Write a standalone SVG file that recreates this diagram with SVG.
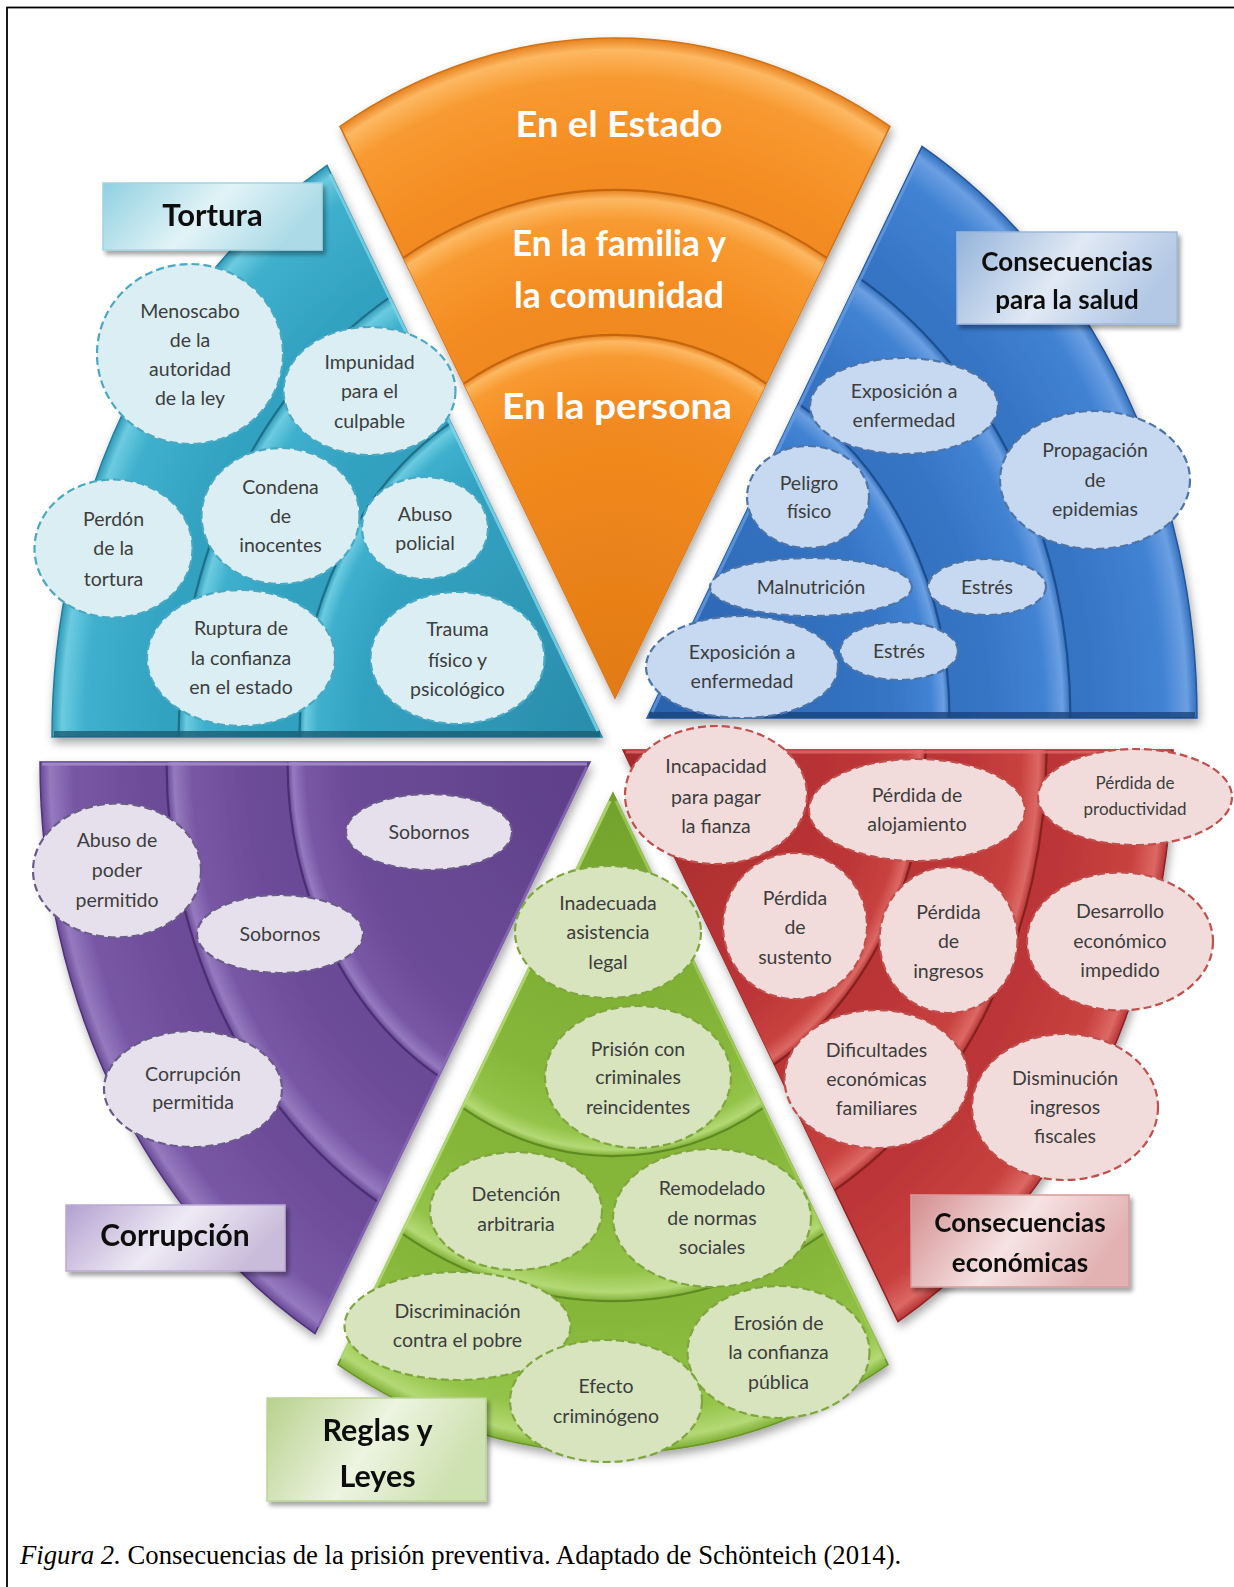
<svg xmlns="http://www.w3.org/2000/svg" xmlns:xlink="http://www.w3.org/1999/xlink" width="1234" height="1587" viewBox="0 0 1234 1587">
<style>
  .t { font-family: Lato, "Open Sans", sans-serif; font-size: 19.5px; fill: #3d3d3d; text-anchor: middle; }
  .ts { font-size: 17px; }
  .ow { font-family: Lato, "Open Sans", sans-serif; font-weight: 700; font-size: 37px; fill: #ffffff; text-anchor: middle; }
  .lb { font-family: Lato, "Open Sans", sans-serif; font-weight: 700; fill: #111111; text-anchor: middle; }
  .nd { stroke-width: 2.2; stroke-dasharray: 8 4; }
  .nT { fill: #daeef3; stroke: #4aa8c2; }
  .nB { fill: #c6d9f1; stroke: #4f74a6; }
  .nP { fill: #e5e0ec; stroke: #6b5b88; }
  .nG { fill: #d7e4bd; stroke: #7fa63e; }
  .nR { fill: #f2dcdb; stroke: #c0504d; }
  .groove { fill: none; stroke-width: 2.2; }
  .box { filter: url(#bs); }
</style>
<defs>
  <!-- wedge outlines, apex at origin, elliptical rim rx 550 / ry 660 -->
  <path id="wO" d="M0 0 L-275 -571.6 A550 660 0 0 1 275 -571.6 Z"/>
  <path id="wB" d="M0 0 L275 -571.6 A550 660 0 0 1 550 0 Z"/>
  <path id="wR" d="M0 0 L550 0 A550 660 0 0 1 275 571.6 Z"/>
  <path id="wG" d="M0 0 L275 571.6 A550 660 0 0 1 -275 571.6 Z"/>
  <path id="wP" d="M0 0 L-275 571.6 A550 660 0 0 1 -550 0 Z"/>
  <path id="wT" d="M0 0 L-550 0 A550 660 0 0 1 -275 -571.6 Z"/>

  <radialGradient id="gO" gradientUnits="userSpaceOnUse" cx="0" cy="0" r="660" gradientTransform="scale(0.8333 1)">
    <stop offset="0" stop-color="#e27a14"/>
    <stop offset="0.8" stop-color="#f38b21"/>
    <stop offset="0.94" stop-color="#f89a31"/>
    <stop offset="0.982" stop-color="#fdb862"/>
    <stop offset="1" stop-color="#e7821f"/>
  </radialGradient>
  <radialGradient id="gT" gradientUnits="userSpaceOnUse" cx="0" cy="0" r="660" gradientTransform="scale(0.8333 1)">
    <stop offset="0" stop-color="#2a8cab"/>
    <stop offset="0.8" stop-color="#33a2c1"/>
    <stop offset="0.94" stop-color="#3fb0cd"/>
    <stop offset="0.982" stop-color="#6ccbe0"/>
    <stop offset="1" stop-color="#2e98b7"/>
  </radialGradient>
  <radialGradient id="gB" gradientUnits="userSpaceOnUse" cx="0" cy="0" r="660" gradientTransform="scale(0.8333 1)">
    <stop offset="0" stop-color="#2a62ac"/>
    <stop offset="0.8" stop-color="#3574c4"/>
    <stop offset="0.94" stop-color="#4283d3"/>
    <stop offset="0.982" stop-color="#6b9fe2"/>
    <stop offset="1" stop-color="#3370bd"/>
  </radialGradient>
  <radialGradient id="gP" gradientUnits="userSpaceOnUse" cx="0" cy="0" r="660" gradientTransform="scale(0.8333 1)">
    <stop offset="0" stop-color="#5d3f88"/>
    <stop offset="0.8" stop-color="#6c4b98"/>
    <stop offset="0.94" stop-color="#7857a5"/>
    <stop offset="0.982" stop-color="#957abf"/>
    <stop offset="1" stop-color="#674795"/>
  </radialGradient>
  <radialGradient id="gG" gradientUnits="userSpaceOnUse" cx="0" cy="0" r="660" gradientTransform="scale(0.8333 1)">
    <stop offset="0" stop-color="#72a22c"/>
    <stop offset="0.8" stop-color="#86b73a"/>
    <stop offset="0.94" stop-color="#93c347"/>
    <stop offset="0.982" stop-color="#b3d975"/>
    <stop offset="1" stop-color="#7fb035"/>
  </radialGradient>
  <radialGradient id="gR" gradientUnits="userSpaceOnUse" cx="0" cy="0" r="660" gradientTransform="scale(0.8333 1)">
    <stop offset="0" stop-color="#a42a2c"/>
    <stop offset="0.8" stop-color="#bc3537"/>
    <stop offset="0.94" stop-color="#c84240"/>
    <stop offset="0.982" stop-color="#dc6864"/>
    <stop offset="1" stop-color="#b53335"/>
  </radialGradient>

  <linearGradient id="bT" x1="0" y1="0" x2="1" y2="0.3">
    <stop offset="0" stop-color="#8fd0e0"/><stop offset="0.55" stop-color="#e2f3f7"/><stop offset="1" stop-color="#acdbe7"/>
  </linearGradient>
  <linearGradient id="bB" x1="0" y1="0" x2="1" y2="0.3">
    <stop offset="0" stop-color="#93b3da"/><stop offset="0.55" stop-color="#e1e9f4"/><stop offset="1" stop-color="#b2c8e4"/>
  </linearGradient>
  <linearGradient id="bP" x1="0" y1="0" x2="1" y2="0.3">
    <stop offset="0" stop-color="#b3a0cf"/><stop offset="0.55" stop-color="#eeeaf4"/><stop offset="1" stop-color="#c9bcdb"/>
  </linearGradient>
  <linearGradient id="bG" x1="0" y1="0" x2="1" y2="0.3">
    <stop offset="0" stop-color="#b7d18c"/><stop offset="0.55" stop-color="#edf4e1"/><stop offset="1" stop-color="#cee1b0"/>
  </linearGradient>
  <linearGradient id="bR" x1="0" y1="0" x2="1" y2="0.3">
    <stop offset="0" stop-color="#d38c8e"/><stop offset="0.55" stop-color="#f6e3e3"/><stop offset="1" stop-color="#e2b2b3"/>
  </linearGradient>

  <filter id="ds" x="-10%" y="-10%" width="125%" height="125%">
    <feGaussianBlur in="SourceAlpha" stdDeviation="5"/>
    <feOffset dx="2" dy="5" result="b"/>
    <feFlood flood-color="#000" flood-opacity="0.35"/>
    <feComposite in2="b" operator="in"/>
    <feMerge><feMergeNode/><feMergeNode in="SourceGraphic"/></feMerge>
  </filter>
  <filter id="bs" x="-10%" y="-10%" width="125%" height="135%">
    <feGaussianBlur in="SourceAlpha" stdDeviation="2"/>
    <feOffset dx="3" dy="4" result="b"/>
    <feFlood flood-color="#000" flood-opacity="0.35"/>
    <feComposite in2="b" operator="in"/>
    <feMerge><feMergeNode/><feMergeNode in="SourceGraphic"/></feMerge>
  </filter>
</defs>

<rect x="0" y="0" width="1234" height="1587" fill="#ffffff"/>
<!-- page frame; its right and lower edges run past the sheet -->
<rect x="7" y="7.5" width="1240" height="1590" fill="none" stroke="#000" stroke-width="1.8"/>

<!-- ===== wedges ===== -->
<g id="wedges">
  <g id="wedge-orange" transform="translate(615 698)" filter="url(#ds)">
    <use href="#wO" fill="url(#gO)" stroke="#d0731a" stroke-width="1.5"/>
    <use href="#wO" transform="scale(0.77)" fill="url(#gO)"/>
    <use href="#wO" transform="scale(0.55)" fill="url(#gO)"/>
    <path class="groove" stroke="#c46610" d="M-211.75 -440.1 A423.5 508.2 0 0 1 211.75 -440.1"/>
    <path class="groove" stroke="#c46610" d="M-151.25 -314.4 A302.5 363 0 0 1 151.25 -314.4"/>
  </g>
  <g id="wedge-teal" transform="translate(602 737)" filter="url(#ds)">
    <use href="#wT" fill="url(#gT)" stroke="#247f9a" stroke-width="1.5"/>
    <use href="#wT" transform="scale(0.77)" fill="url(#gT)"/>
    <use href="#wT" transform="scale(0.55)" fill="url(#gT)"/>
    <path class="groove" stroke="#1f6f88" d="M-423.5 0 A423.5 508.2 0 0 1 -211.75 -440.1"/>
    <path class="groove" stroke="#1f6f88" d="M-302.5 0 A302.5 363 0 0 1 -151.25 -314.4"/>
    <path d="M-548 -3 L-2 -3" stroke="#1a5f75" stroke-width="6" opacity="0.8"/>
    <path d="M-4 -6 L-272 -563" stroke="#7fd6ea" stroke-width="3" opacity="0.8"/>
  </g>
  <g id="wedge-blue" transform="translate(647 718)" filter="url(#ds)">
    <use href="#wB" fill="url(#gB)" stroke="#24559a" stroke-width="1.5"/>
    <use href="#wB" transform="scale(0.77)" fill="url(#gB)"/>
    <use href="#wB" transform="scale(0.55)" fill="url(#gB)"/>
    <path class="groove" stroke="#1f4f8e" d="M211.75 -440.1 A423.5 508.2 0 0 1 423.5 0"/>
    <path class="groove" stroke="#1f4f8e" d="M151.25 -314.4 A302.5 363 0 0 1 302.5 0"/>
    <path d="M2 -3 L548 -3" stroke="#1b4680" stroke-width="6" opacity="0.8"/>
    <path d="M5 -6 L273 -563" stroke="#6d9fe0" stroke-width="3" opacity="0.7"/>
  </g>
  <g id="wedge-purple" transform="translate(590 762)" filter="url(#ds)">
    <use href="#wP" fill="url(#gP)" stroke="#4e3478" stroke-width="1.5"/>
    <use href="#wP" transform="scale(0.77)" fill="url(#gP)"/>
    <use href="#wP" transform="scale(0.55)" fill="url(#gP)"/>
    <path class="groove" stroke="#4a2f72" d="M-211.75 440.1 A423.5 508.2 0 0 1 -423.5 0"/>
    <path class="groove" stroke="#4a2f72" d="M-151.25 314.4 A302.5 363 0 0 1 -302.5 0"/>
    <path d="M-548 2 L-3 2" stroke="#a58bcb" stroke-width="3" opacity="0.9"/>
    <path d="M-3 5 L-272 565" stroke="#8a6cb8" stroke-width="3" opacity="0.8"/>
  </g>
  <g id="wedge-green" transform="translate(613 793)" filter="url(#ds)">
    <use href="#wG" fill="url(#gG)" stroke="#6a9528" stroke-width="1.5"/>
    <use href="#wG" transform="scale(0.77)" fill="url(#gG)"/>
    <use href="#wG" transform="scale(0.55)" fill="url(#gG)"/>
    <path class="groove" stroke="#5f8a22" d="M211.75 440.1 A423.5 508.2 0 0 1 -211.75 440.1"/>
    <path class="groove" stroke="#5f8a22" d="M151.25 314.4 A302.5 363 0 0 1 -151.25 314.4"/>
    <path d="M-3 8 L-272 566" stroke="#b9dd7c" stroke-width="3" opacity="0.8"/>
    <path d="M3 8 L272 566" stroke="#a9d066" stroke-width="3" opacity="0.7"/>
  </g>
  <g id="wedge-red" transform="translate(623 750)" filter="url(#ds)">
    <use href="#wR" fill="url(#gR)" stroke="#8e2224" stroke-width="1.5"/>
    <use href="#wR" transform="scale(0.77)" fill="url(#gR)"/>
    <use href="#wR" transform="scale(0.55)" fill="url(#gR)"/>
    <path class="groove" stroke="#86201f" d="M423.5 0 A423.5 508.2 0 0 1 211.75 440.1"/>
    <path class="groove" stroke="#86201f" d="M302.5 0 A302.5 363 0 0 1 151.25 314.4"/>
    <path d="M3 2 L548 2" stroke="#df6a68" stroke-width="3" opacity="0.8"/>
  </g>
</g>

<!-- centre wedge captions -->
<g id="levels">
  <text class="ow" x="619" y="137" textLength="207" lengthAdjust="spacingAndGlyphs">En el Estado</text>
  <text class="ow" x="619" y="256" textLength="214" lengthAdjust="spacingAndGlyphs">En la familia y</text>
  <text class="ow" x="619" y="308" textLength="210" lengthAdjust="spacingAndGlyphs">la comunidad</text>
  <text class="ow" x="617" y="419" textLength="230" lengthAdjust="spacingAndGlyphs">En la persona</text>
</g>

<!-- ===== Tortura ===== -->
<g id="n-menoscabo"><ellipse class="nd nT" cx="190" cy="354" rx="93" ry="90"/>
  <text class="t"><tspan x="190" y="317.5">Menoscabo</tspan><tspan x="190" y="346.5">de la</tspan><tspan x="190" y="376">autoridad</tspan><tspan x="190" y="404.5">de la ley</tspan></text></g>
<g id="n-impunidad"><ellipse class="nd nT" cx="369.5" cy="391" rx="86" ry="64"/>
  <text class="t"><tspan x="369.5" y="369">Impunidad</tspan><tspan x="369.5" y="398">para el</tspan><tspan x="369.5" y="427.5">culpable</tspan></text></g>
<g id="n-condena"><ellipse class="nd nT" cx="280.5" cy="516" rx="79" ry="68"/>
  <text class="t"><tspan x="280.5" y="493.5">Condena</tspan><tspan x="280.5" y="522.5">de</tspan><tspan x="280.5" y="552">inocentes</tspan></text></g>
<g id="n-abuso-policial"><ellipse class="nd nT" cx="425" cy="528" rx="63" ry="51"/>
  <text class="t"><tspan x="425" y="520.5">Abuso</tspan><tspan x="425" y="550">policial</tspan></text></g>
<g id="n-perdon"><ellipse class="nd nT" cx="113.5" cy="548.5" rx="79" ry="69"/>
  <text class="t"><tspan x="113.5" y="525.5">Perdón</tspan><tspan x="113.5" y="555">de la</tspan><tspan x="113.5" y="585.5">tortura</tspan></text></g>
<g id="n-ruptura"><ellipse class="nd nT" cx="241" cy="658" rx="94" ry="68"/>
  <text class="t"><tspan x="241" y="635">Ruptura de</tspan><tspan x="241" y="664.5">la confianza</tspan><tspan x="241" y="693.5">en el estado</tspan></text></g>
<g id="n-trauma"><ellipse class="nd nT" cx="457.5" cy="658" rx="87" ry="66"/>
  <text class="t"><tspan x="457.5" y="636">Trauma</tspan><tspan x="457.5" y="666.5">físico y</tspan><tspan x="457.5" y="695.5">psicológico</tspan></text></g>

<!-- ===== Salud ===== -->
<g id="n-exposicion-1"><ellipse class="nd nB" cx="904" cy="406" rx="94" ry="48"/>
  <text class="t"><tspan x="904" y="398">Exposición a</tspan><tspan x="904" y="426.5">enfermedad</tspan></text></g>
<g id="n-propagacion"><ellipse class="nd nB" cx="1095" cy="480" rx="95" ry="69"/>
  <text class="t"><tspan x="1095" y="457">Propagación</tspan><tspan x="1095" y="486.5">de</tspan><tspan x="1095" y="515.5">epidemias</tspan></text></g>
<g id="n-peligro"><ellipse class="nd nB" cx="808" cy="497" rx="61" ry="51"/>
  <text class="t"><tspan x="809" y="489.5">Peligro</tspan><tspan x="809" y="517.5">físico</tspan></text></g>
<g id="n-malnutricion"><ellipse class="nd nB" cx="811" cy="587" rx="101" ry="29"/>
  <text class="t" x="811" y="593.5">Malnutrición</text></g>
<g id="n-estres-1"><ellipse class="nd nB" cx="987" cy="587" rx="59" ry="28"/>
  <text class="t" x="987" y="593.5">Estrés</text></g>
<g id="n-exposicion-2"><ellipse class="nd nB" cx="742" cy="667" rx="96" ry="51"/>
  <text class="t"><tspan x="742" y="658.5">Exposición a</tspan><tspan x="742" y="687.5">enfermedad</tspan></text></g>
<g id="n-estres-2"><ellipse class="nd nB" cx="899" cy="651" rx="59" ry="29"/>
  <text class="t" x="899" y="657.5">Estrés</text></g>

<!-- ===== Corrupción ===== -->
<g id="n-abuso-poder"><ellipse class="nd nP" cx="117" cy="870.5" rx="84" ry="67"/>
  <text class="t"><tspan x="117" y="846.5">Abuso de</tspan><tspan x="117" y="877">poder</tspan><tspan x="117" y="906.5">permitido</tspan></text></g>
<g id="n-sobornos-1"><ellipse class="nd nP" cx="429" cy="832" rx="83" ry="38"/>
  <text class="t" x="429" y="838.5">Sobornos</text></g>
<g id="n-sobornos-2"><ellipse class="nd nP" cx="280" cy="934" rx="83" ry="39"/>
  <text class="t" x="280" y="940.5">Sobornos</text></g>
<g id="n-corrupcion-permitida"><ellipse class="nd nP" cx="193" cy="1089" rx="89" ry="58"/>
  <text class="t"><tspan x="193" y="1080.5">Corrupción</tspan><tspan x="193" y="1108.5">permitida</tspan></text></g>

<!-- ===== Reglas y Leyes ===== -->
<g id="n-inadecuada"><ellipse class="nd nG" cx="608" cy="932" rx="93" ry="66"/>
  <text class="t"><tspan x="608" y="909.5">Inadecuada</tspan><tspan x="608" y="938.5">asistencia</tspan><tspan x="608" y="968.5">legal</tspan></text></g>
<g id="n-prision"><ellipse class="nd nG" cx="638" cy="1077" rx="93" ry="71"/>
  <text class="t"><tspan x="638" y="1055.5">Prisión con</tspan><tspan x="638" y="1083.5">criminales</tspan><tspan x="638" y="1113.5">reincidentes</tspan></text></g>
<g id="n-detencion"><ellipse class="nd nG" cx="516" cy="1211" rx="86" ry="59"/>
  <text class="t"><tspan x="516" y="1201">Detención</tspan><tspan x="516" y="1230.5">arbitraria</tspan></text></g>
<g id="n-remodelado"><ellipse class="nd nG" cx="712" cy="1218" rx="99" ry="69"/>
  <text class="t"><tspan x="712" y="1195">Remodelado</tspan><tspan x="712" y="1224.5">de normas</tspan><tspan x="712" y="1253.5">sociales</tspan></text></g>
<g id="n-discriminacion"><ellipse class="nd nG" cx="457.5" cy="1326" rx="113" ry="54"/>
  <text class="t"><tspan x="457.5" y="1317.5">Discriminación</tspan><tspan x="457.5" y="1346.5">contra el pobre</tspan></text></g>
<g id="n-erosion"><ellipse class="nd nG" cx="778.5" cy="1352" rx="91" ry="66"/>
  <text class="t"><tspan x="778.5" y="1329.5">Erosión de</tspan><tspan x="778.5" y="1358.5">la confianza</tspan><tspan x="778.5" y="1388.5">pública</tspan></text></g>
<g id="n-efecto"><ellipse class="nd nG" cx="606" cy="1401" rx="96" ry="61"/>
  <text class="t"><tspan x="606" y="1392.5">Efecto</tspan><tspan x="606" y="1422.5">criminógeno</tspan></text></g>

<!-- ===== Consecuencias económicas ===== -->
<g id="n-incapacidad"><ellipse class="nd nR" cx="716" cy="795" rx="91" ry="69"/>
  <text class="t"><tspan x="716" y="772.5">Incapacidad</tspan><tspan x="716" y="803.5">para pagar</tspan><tspan x="716" y="832.5">la fianza</tspan></text></g>
<g id="n-alojamiento"><ellipse class="nd nR" cx="917" cy="810" rx="108" ry="51"/>
  <text class="t"><tspan x="917" y="801.5">Pérdida de</tspan><tspan x="917" y="830.5">alojamiento</tspan></text></g>
<g id="n-productividad"><ellipse class="nd nR" cx="1135" cy="797" rx="97" ry="48"/>
  <text class="t ts"><tspan x="1135" y="789">Pérdida de</tspan><tspan x="1135" y="814.5">productividad</tspan></text></g>
<g id="n-sustento"><ellipse class="nd nR" cx="795" cy="926" rx="72" ry="73"/>
  <text class="t"><tspan x="795" y="904.5">Pérdida</tspan><tspan x="795" y="933.5">de</tspan><tspan x="795" y="963.5">sustento</tspan></text></g>
<g id="n-ingresos"><ellipse class="nd nR" cx="948.5" cy="940" rx="69" ry="73"/>
  <text class="t"><tspan x="948.5" y="918.5">Pérdida</tspan><tspan x="948.5" y="947.5">de</tspan><tspan x="948.5" y="977.5">ingresos</tspan></text></g>
<g id="n-desarrollo"><ellipse class="nd nR" cx="1120" cy="941.5" rx="93" ry="69"/>
  <text class="t"><tspan x="1120" y="917.5">Desarrollo</tspan><tspan x="1120" y="948">económico</tspan><tspan x="1120" y="976.5">impedido</tspan></text></g>
<g id="n-dificultades"><ellipse class="nd nR" cx="876.5" cy="1079" rx="92" ry="69"/>
  <text class="t"><tspan x="876.5" y="1056.5">Dificultades</tspan><tspan x="876.5" y="1085.5">económicas</tspan><tspan x="876.5" y="1115">familiares</tspan></text></g>
<g id="n-disminucion"><ellipse class="nd nR" cx="1065" cy="1107" rx="93" ry="73"/>
  <text class="t"><tspan x="1065" y="1084.5">Disminución</tspan><tspan x="1065" y="1113.5">ingresos</tspan><tspan x="1065" y="1142.5">fiscales</tspan></text></g>

<!-- ===== category labels ===== -->
<g id="label-tortura" class="box">
  <rect x="103" y="183" width="219" height="67" fill="url(#bT)" stroke="#a3d4e1" stroke-width="1.5"/>
  <text class="lb" x="212.5" y="226" font-size="31">Tortura</text>
</g>
<g id="label-salud" class="box">
  <rect x="957" y="232" width="220" height="92" fill="url(#bB)" stroke="#9cb7dc" stroke-width="1.5"/>
  <text class="lb" font-size="26"><tspan x="1067" y="270.5">Consecuencias</tspan><tspan x="1067" y="309">para la salud</tspan></text>
</g>
<g id="label-corrupcion" class="box">
  <rect x="66" y="1205" width="219" height="66" fill="url(#bP)" stroke="#bba9d3" stroke-width="1.5"/>
  <text class="lb" x="175" y="1245.5" font-size="30">Corrupción</text>
</g>
<g id="label-reglas" class="box">
  <rect x="267" y="1398" width="219" height="103" fill="url(#bG)" stroke="#bcd596" stroke-width="1.5"/>
  <text class="lb" font-size="30.5"><tspan x="377.5" y="1440.5">Reglas y</tspan><tspan x="377.5" y="1486.5">Leyes</tspan></text>
</g>
<g id="label-economicas" class="box">
  <rect x="911" y="1195" width="218" height="92" fill="url(#bR)" stroke="#d99a9b" stroke-width="1.5"/>
  <text class="lb" font-size="26"><tspan x="1020" y="1231.5">Consecuencias</tspan><tspan x="1020" y="1271.5">económicas</tspan></text>
</g>

<text id="caption" x="20" y="1564" font-family="'Liberation Serif', 'Times New Roman', serif" font-size="26.7" fill="#000"><tspan font-style="italic">Figura 2.</tspan> Consecuencias de la prisión preventiva. Adaptado de Schönteich (2014).</text>
</svg>
